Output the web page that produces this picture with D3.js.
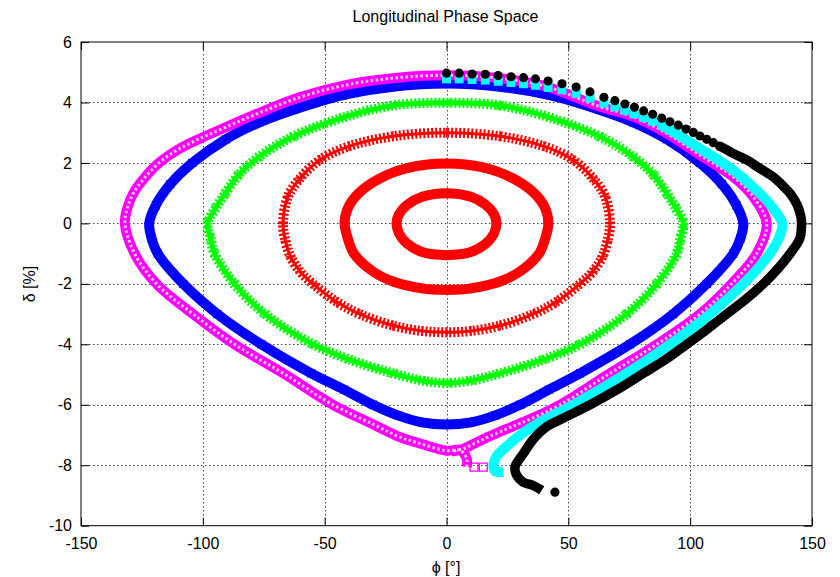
<!DOCTYPE html>
<html>
<head>
<meta charset="utf-8">
<script src="https://cdn.jsdelivr.net/npm/d3@7"></script>
<style>
  body { margin: 0; background: #fff; }
  svg { display: block; font-family: "Liberation Sans", Arial, sans-serif; }
</style>
</head>
<body>
<svg id="chart" width="840" height="577"></svg>
<script>
// tick values
const xTicks = [-150, -100, -50, 0, 50, 100, 150];
const yTicks = [-10, -8, -6, -4, -2, 0, 2, 4, 6];

// orbits, [phi in deg, delta in %]
// red (+), closed
const red1 = [[0,1.0],[10,0.88],[16,0.62],[19.5,0.3],[20.5,0],[19.5,-0.33],[16,-0.68],[10,-0.95],[0,-1.05],
  [-10,-0.95],[-16,-0.68],[-19.5,-0.33],[-20.5,0],[-19.5,0.3],[-16,0.62],[-10,0.88]];
const red2 = [[0,1.98],[15,1.85],[27,1.5],[36,1.0],[40.5,0.5],[41.8,0],[40.5,-0.5],[38,-1.0],[30,-1.6],[22,-1.92],
  [10,-2.15],[0,-2.2],[-10,-2.15],[-22,-1.92],[-30,-1.6],[-38,-1.0],[-40.5,-0.5],[-41.8,0],[-40.5,0.5],[-36,1.0],
  [-27,1.5],[-15,1.85]];
const red3 = [[0,3.0],[22,2.88],[40,2.55],[52,2.1],[60,1.5],[65,0.9],[67.1,0],[66,-0.6],[64,-1.1],[60,-1.6],
  [54.8,-2.0],[45,-2.6],[35.6,-3.0],[22,-3.38],[10,-3.56],[0,-3.6],[-10,-3.56],[-22,-3.38],[-35.6,-3.0],[-45,-2.6],
  [-54.8,-2.0],[-60,-1.6],[-64,-1.1],[-66,-0.6],[-67.1,0],[-65,0.9],[-60,1.5],[-52,2.1],[-40,2.55],[-22,2.88]];
// green (x), closed
const green = [[0,3.99],[22,3.9],[42.5,3.5],[63,2.87],[76.7,2.2],[85,1.6],[90.4,0.99],[94.2,0.5],[97.2,0],
  [96,-0.5],[94.5,-1],[86.3,-2],[73.9,-3],[54.8,-4],[40,-4.5],[22,-4.96],[10,-5.2],[0,-5.28],[-10,-5.2],[-22,-4.96],
  [-40,-4.5],[-54.8,-4],[-74.5,-3],[-87,-2],[-95.2,-1],[-96.8,-0.5],[-98,0],[-94.8,0.5],[-90.8,0.99],[-85.4,1.6],
  [-77,2.2],[-63,2.87],[-42.5,3.5],[-22,3.9]];
// blue (*), closed
const blue = [[0,4.63],[22,4.52],[42.5,4.24],[63,3.75],[76.7,3.34],[90.4,2.78],[104,2.0],[113,1.3],[119,0.6],
  [121.8,0],[120.6,-0.5],[117.7,-1],[106.8,-2],[93,-3],[75.3,-4],[54.8,-4.96],[42,-5.5],[30.2,-6],[20,-6.35],
  [10,-6.58],[0,-6.65],[-10,-6.58],[-20,-6.35],[-30.2,-6],[-42,-5.5],[-55.5,-4.96],[-76,-4],[-94,-3],[-108,-2],
  [-118.5,-1],[-121,-0.5],[-122,0],[-119.3,0.6],[-113.3,1.3],[-104.3,2.0],[-90.6,2.78],[-76.8,3.34],[-63,3.75],
  [-42.5,4.24],[-22,4.52]];
// magenta (open squares), sparse start then dense path
const magentaSparse = [[15.1,-8.06],[11.3,-8.06]];
const magenta = [[8.3,-8.06],[8.3,-7.78],[5.5,-7.5],[0,-7.52],[-10.9,-7.28],[-19.1,-7.07],[-30,-6.65],[-46.6,-6],
  [-67,-4.96],[-87,-4],[-104,-3],[-119,-2],[-128,-1],[-132,0],[-131,0.5],[-128.5,1.0],[-124,1.5],[-118,2.0],
  [-110,2.45],[-100,2.85],[-90,3.2],[-78,3.62],[-60,4.18],[-40,4.6],[-20,4.82],[0,4.9],[20,4.82],[40,4.55],
  [63,3.86],[76.7,3.53],[90.4,2.98],[104,2.26],[117.7,1.54],[125.9,0.88],[131.4,0],[127.3,-1],[117,-2],[104,-3],
  [86.3,-4],[67.1,-4.96],[46.6,-6],[35,-6.45],[24.7,-6.8],[14,-7.18],[7,-7.45],[2,-7.55]];
// cyan (filled squares)
const cyanSparse = [[0,4.78],[5.2,4.78],[10.5,4.76],[15.9,4.74],[21.2,4.7],[26.5,4.66],[31.6,4.62],[36.5,4.57],
  [41.7,4.5],[47.4,4.42],[53.2,4.3],[58.9,4.15],[64.6,3.98],[69.1,3.86],[73.2,3.74],[77.1,3.62],[80.9,3.5],
  [84.6,3.38],[88.3,3.24]];
const cyan = [[88.3,3.24],[90.4,3.15],[104,2.48],[117.7,1.76],[128.6,0.99],[134,0.5],[137.8,0],[136.3,-0.5],
  [132.7,-1],[121.8,-2],[108.1,-3],[91.7,-4],[73.9,-4.96],[52,-6],[40,-6.5],[31,-6.95],[25,-7.35],[20.6,-7.7],
  [19.3,-7.95],[20,-8.2],[23.3,-8.22]];
// black (filled circles)
const blackSparse = [[0,4.97],[5.2,4.97],[10.5,4.94],[15.9,4.93],[21.2,4.89],[26.5,4.85],[31.6,4.82],[36.5,4.78],
  [41.7,4.71],[47.4,4.62],[53.2,4.51],[58.9,4.35],[64.6,4.17],[69.1,4.06],[73.2,3.95],[77.1,3.84],[80.9,3.72],
  [84.6,3.61],[88.3,3.48],[91.7,3.36],[95.1,3.25],[98.3,3.12],[101.3,3.01],[104,2.89],[106.8,2.78],[109.5,2.67],
  [112,2.56],[44.5,-8.89]];
const black = [[112,2.56],[114.7,2.45],[118,2.3],[123.2,2.1],[128,1.85],[134,1.54],[138,1.25],[141,0.99],[144,0.6],
  [145.5,0.2],[145.7,0],[145,-0.5],[141,-1.0],[136,-1.5],[130,-2],[123,-2.5],[115,-3],[107,-3.5],[98.6,-4],
  [90,-4.5],[80.8,-4.96],[70,-5.5],[58.9,-6],[49,-6.4],[41,-6.73],[36,-7.1],[31.5,-7.62],[28.1,-8.06],
  [28.8,-8.33],[31.5,-8.56],[35.6,-8.67],[39.1,-8.83]];

const width = 840, height = 577;
const margin = { top: 42, right: 28, bottom: 51.3, left: 81 };

const svg = d3.select('#chart');
svg.append('rect').attr('width', width).attr('height', height).attr('fill', '#fff');

const x = d3.scaleLinear().domain([-150, 150]).range([margin.left, width - margin.right]);
const y = d3.scaleLinear().domain([-10, 6]).range([height - margin.bottom, margin.top]);

// grid
const grid = svg.append('g').attr('stroke', '#444').attr('stroke-width', 1).attr('stroke-dasharray', '1.5,2.5');
grid.selectAll('.gx').data(xTicks.slice(1, -1)).join('line')
  .attr('x1', d => Math.round(x(d)) + 0.5).attr('x2', d => Math.round(x(d)) + 0.5)
  .attr('y1', y(6)).attr('y2', y(-10));
grid.selectAll('.gy').data(yTicks.slice(1, -1)).join('line')
  .attr('y1', d => Math.round(y(d)) + 0.5).attr('y2', d => Math.round(y(d)) + 0.5)
  .attr('x1', x(-150)).attr('x2', x(150));

const lineOpen = d3.line().x(d => x(d[0])).y(d => y(d[1])).curve(d3.curveCatmullRom);
const lineClosed = d3.line().x(d => x(d[0])).y(d => y(d[1])).curve(d3.curveCatmullRomClosed);

const plot = svg.append('g').attr('fill', 'none');

function band(data, gen, color, w, dash) {
  const p = plot.append('path').attr('d', gen(data)).attr('stroke', color).attr('stroke-width', w);
  if (dash) p.attr('stroke-dasharray', dash);
  return p;
}

// point symbols
function marks(data, shape, color) {
  const g = plot.append('g');
  const sel = g.selectAll('path').data(data).join('path')
    .attr('transform', d => `translate(${x(d[0])},${y(d[1])})`);
  if (shape === 'plus') sel.attr('d', 'M-5,0H5M0,-5V5').attr('stroke', color).attr('stroke-width', 1.5);
  if (shape === 'cross') sel.attr('d', 'M-4,-4L4,4M-4,4L4,-4').attr('stroke', color).attr('stroke-width', 1.5);
  if (shape === 'star') sel.attr('d', 'M-5,0H5M0,-5V5M-4,-4L4,4M-4,4L4,-4').attr('stroke', color).attr('stroke-width', 1.2);
  if (shape === 'osq') sel.attr('d', 'M-4,-4H4V4H-4Z').attr('stroke', color).attr('stroke-width', 1.3).attr('fill', 'none');
  if (shape === 'fsq') sel.attr('d', 'M-4.5,-4.5H4.5V4.5H-4.5Z').attr('fill', color);
  if (shape === 'circ') sel.attr('d', d3.symbol(d3.symbolCircle, 66)()).attr('fill', color);
}

// red
band(red1, lineClosed, '#ff0000', 10);
band(red2, lineClosed, '#ff0000', 10);
band(red3, lineClosed, '#ff0000', 3);
band(red3, lineClosed, '#ff0000', 10, '2,2');
[red1, red2, red3].forEach(r => marks(r, 'plus', '#ff0000'));

// green
band(green, lineClosed, '#00ff00', 5);
band(green, lineClosed, '#00ff00', 10, '2,2');
marks(green, 'cross', '#00ff00');

// blue
band(blue, lineClosed, '#0000ff', 10);
marks(blue, 'star', '#0000ff');

// magenta
band(magenta, lineOpen, '#ff00ff', 10);
band(magenta, lineOpen, '#ffffff', 3, '2.5,2.5').attr('stroke-opacity', 0.8);
marks(magentaSparse, 'osq', '#ff00ff');

// cyan
marks(cyanSparse, 'fsq', '#00ffff');
band(cyan, lineOpen, '#00ffff', 10);

// black
marks(blackSparse, 'circ', '#000000');
band(black, lineOpen, '#000000', 9.5);

// axes with inward ticks on all four sides, plain hyphen minus
const fmt = d => String(d);
const axisFont = g => g.attr('font-family', '"Liberation Sans", Arial, sans-serif').attr('font-size', 16);
svg.append('g').attr('transform', `translate(0,${y(-10)})`)
  .call(d3.axisBottom(x).tickValues(xTicks).tickSize(-8).tickPadding(12).tickFormat(fmt))
  .call(axisFont)
  .call(g => g.select('.domain').remove());
svg.append('g').attr('transform', `translate(0,${y(6)})`)
  .call(d3.axisTop(x).tickValues(xTicks).tickSize(-8).tickFormat(''))
  .call(g => g.select('.domain').remove());
svg.append('g').attr('transform', `translate(${x(-150)},0)`)
  .call(d3.axisLeft(y).tickValues(yTicks).tickSize(-8).tickPadding(9).tickFormat(fmt))
  .call(axisFont)
  .call(g => g.select('.domain').remove());
svg.append('g').attr('transform', `translate(${x(150)},0)`)
  .call(d3.axisRight(y).tickValues(yTicks).tickSize(-8).tickFormat(''))
  .call(g => g.select('.domain').remove());
svg.selectAll('.tick text').attr('fill', '#000');
svg.selectAll('.tick line').attr('stroke', '#000');

// frame
svg.append('rect')
  .attr('x', x(-150)).attr('y', y(6))
  .attr('width', x(150) - x(-150)).attr('height', y(-10) - y(6))
  .attr('fill', 'none').attr('stroke', '#000').attr('stroke-width', 1);

// labels
svg.append('text').attr('x', 445.5).attr('y', 22).attr('text-anchor', 'middle')
  .attr('font-size', 16).text('Longitudinal Phase Space');
svg.append('text').attr('x', 446).attr('y', 573).attr('text-anchor', 'middle')
  .attr('font-size', 16).text('ϕ [°]');
svg.append('text').attr('transform', 'translate(35,284) rotate(-90)').attr('text-anchor', 'middle')
  .attr('font-size', 16).text('δ [%]');
</script>
</body>
</html>
